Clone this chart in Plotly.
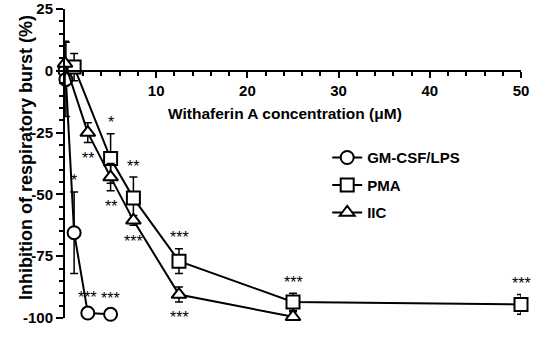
import plotly.graph_objects as go

# ---- data ----
gm_x = [0, 0.1, 1, 2.5, 5]
gm_y = [0, -3.5, -65.5, -98, -98.5]
gm_err = [0, 15, 16.5, 0, 0]
gm_sig = ["", "", "*", "***", "***"]

pma_x = [1, 5, 7.5, 12.5, 25, 50]
pma_y = [1.5, -35.5, -51.5, -77, -93.5, -94.5]
pma_err = [5.5, 10, 8.5, 5, 3.5, 4]
pma_sig = ["", "*", "**", "***", "***", "***"]

iic_x = [0, 2.5, 5, 7.5, 12.5, 25]
iic_y = [3, -25, -43, -60.5, -90.5, -99.5]
iic_err = [9, 4, 5.5, 2, 3, 2]
iic_sig = ["", "**", "**", "***", "***", "***"]

x_ticks = [10, 20, 30, 40, 50]
y_ticks = [-100, -75, -50, -25, 0, 25]

FONT = "Liberation Sans, Arial, sans-serif"

fig = go.Figure()

def add_series(name, xs, ys, errs, symbol, size):
    fig.add_trace(go.Scatter(
        x=xs, y=ys, name=name, mode="lines+markers",
        legendgroup=name,
        line=dict(color="black", width=2),
        marker=dict(symbol=symbol, size=size, color="white",
                    line=dict(color="black", width=2)),
        error_y=dict(type="data", array=errs, color="black",
                     thickness=1.5, width=4),
        cliponaxis=False,
    ))

add_series("GM-CSF/LPS", gm_x, gm_y, gm_err, "circle", 13)
add_series("PMA", pma_x, pma_y, pma_err, "square", 13)
add_series("IIC", iic_x, iic_y, iic_err, "triangle-up", 13)

annotations = []

def add_sig(xs, ys, errs, sigs, above):
    for x, y, e, s in zip(xs, ys, errs, sigs):
        if not s:
            continue
        if above:
            yy = y + e
            shift = 11 if e > 0 else 16
        else:
            yy = y - e
            shift = -16
        annotations.append(dict(
            x=x, y=yy, xref="x", yref="y", text=s, showarrow=False,
            yshift=shift, font=dict(family=FONT, size=16, color="black"),
        ))

add_sig(gm_x, gm_y, gm_err, gm_sig, True)
add_sig(pma_x, pma_y, pma_err, pma_sig, True)
add_sig(iic_x, iic_y, iic_err, iic_sig, False)

H, W = 341, 536
mt, mb, ml, mr = 9, 23, 65, 15
ph = H - mt - mb

# axis titles
annotations.append(dict(
    x=0.482, y=1 - (103 - mt) / ph, xref="paper", yref="paper",
    text="<b>Withaferin A concentration (μM)</b>",
    showarrow=False, font=dict(family=FONT, size=15.5, color="black"),
))
annotations.append(dict(
    x=-0.112, y=1 - (157 - mt) / ph, xref="paper", yref="paper",
    text="<b>Inhibition of respiratory burst (%)</b>",
    showarrow=False, textangle=-90, font=dict(family=FONT, size=18, color="black"),
))

fig.update_layout(
    width=W, height=H,
    margin=dict(l=ml, r=mr, t=mt, b=mb, autoexpand=False),
    plot_bgcolor="white", paper_bgcolor="white",
    font=dict(family=FONT, color="black"),
    xaxis=dict(
        range=[0, 50], anchor="free", position=0.8, automargin=False,
        showline=True, linecolor="black", linewidth=2,
        tickvals=x_ticks, ticktext=[f"<b>{v}</b>" for v in x_ticks],
        ticks="outside", ticklen=6, tickwidth=2, tickcolor="black",
        tickfont=dict(family=FONT, size=15, color="black"),
        ticklabeloverflow="allow",
        minor=dict(tickvals=list(range(0, 51, 2)), ticks="outside",
                   ticklen=4, tickwidth=1.5, tickcolor="black"),
        showgrid=False, zeroline=False,
    ),
    yaxis=dict(
        range=[-100, 25], automargin=False,
        showline=True, linecolor="black", linewidth=2,
        tickvals=y_ticks, ticktext=[f"<b>{v}</b>" for v in y_ticks],
        ticks="outside", ticklen=7, tickwidth=2, tickcolor="black",
        tickfont=dict(family=FONT, size=15, color="black"),
        ticklabeloverflow="allow",
        minor=dict(tickvals=list(range(-100, 26, 5)), ticks="outside",
                   ticklen=4, tickwidth=1.5, tickcolor="black"),
        showgrid=False, zeroline=False,
    ),
    legend=dict(
        x=0.575, y=0.572, xanchor="left", yanchor="top",
        font=dict(family=FONT, size=15, color="black", weight="bold"),
        bgcolor="rgba(0,0,0,0)", tracegroupgap=5, itemwidth=30,
    ),
    annotations=annotations,
)

fig.write_html("out.html", config={"displayModeBar": False},
               post_script="document.body.style.margin='0';document.body.style.overflow='hidden';")
